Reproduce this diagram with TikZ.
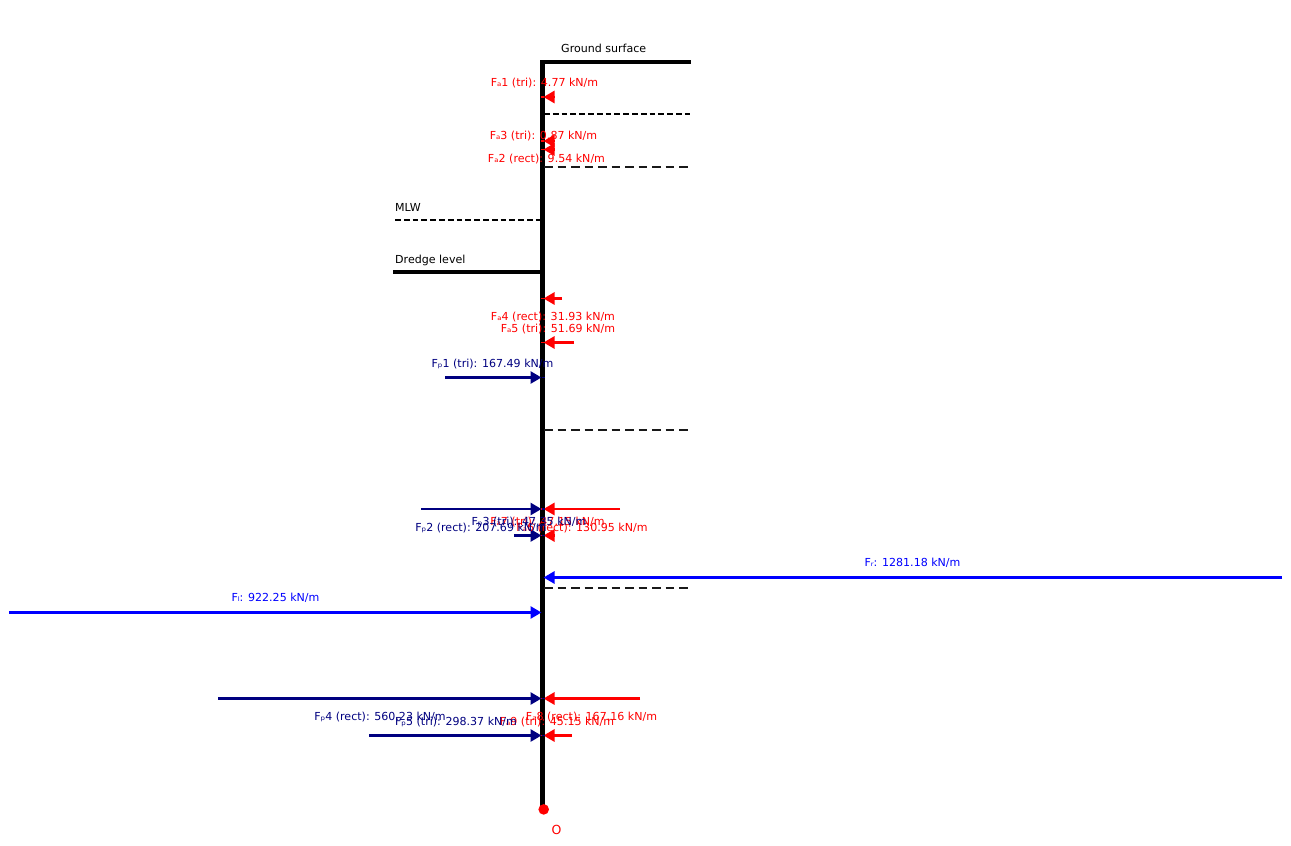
\documentclass[tikz,border=0pt]{standalone}
\usepackage{fontspec}
\setmainfont{DejaVu Sans}
\usetikzlibrary{arrows.meta}
\definecolor{navy}{RGB}{0,0,128}
\tikzset{x=1pt,y=-1pt,
 lbl/.style={inner sep=0pt,font=\fontsize{11.05}{11}\selectfont,anchor=center},
 wall/.style={line width=4.6pt,black},
 ground/.style={line width=3.6pt,black},
 wline/.style={line width=1.8pt,black,dash pattern=on 5.8pt off 3pt},
 wlinet/.style={line width=1.8pt,black!90,dash pattern=on 8.5pt off 5pt},
 fa/.style={line width=2.7pt,red,-{Triangle[length=11pt,width=12pt]}},
 fp/.style={line width=2.7pt,navy,-{Triangle[length=11pt,width=12pt]}},
 fn/.style={line width=2.7pt,blue,-{Triangle[length=11pt,width=12pt]}},
 stub/.style={line width=1.6pt},
}
\begin{document}
\begin{tikzpicture}
\useasboundingbox (0,0) rectangle (1291,846);
\fill[white] (0,0) rectangle (1291,846);
\coordinate (top) at (542.6,60);
\coordinate (toe) at (542.6,809);
\draw[wall] (top) -- (toe);
\coordinate (gl) at (542.6,62);
\coordinate (gr) at (691,62);
\draw[ground] (gl) -- (gr);
\coordinate (w1a) at (544,114); \coordinate (w1b) at (690,114);
\draw[wline] (w1a) -- (w1b);
\coordinate (w2a) at (544,167); \coordinate (w2b) at (688,167);
\draw[wlinet] (w2a) -- (w2b);
\coordinate (w3a) at (395,220); \coordinate (w3b) at (541,220);
\draw[wline] (w3a) -- (w3b);
\coordinate (dl) at (393,272);
\draw[ground] (dl) -- (top |- dl);
\coordinate (w4a) at (544,430); \coordinate (w4b) at (688,430);
\draw[wlinet] (w4a) -- (w4b);
\coordinate (w5a) at (544,588); \coordinate (w5b) at (688,588);
\draw[wlinet] (w5a) -- (w5b);
\node[lbl,anchor=west] (gs) at (561,48.3) {Ground surface};
\node[lbl,anchor=west] (mlw) at (395,207) {MLW};
\node[lbl,anchor=west] (dr) at (395,260) {Dredge level};
% active
\foreach \n/\xs/\y in {a1/554.5/97,a3/554.5/141,a2/554.5/149.5,a4/562/298.5,a5/574/342.5,a6/620/509,a7/554.5/535.5,a8/640/698.5,a9/572/735.5}{
 \coordinate (\n s) at (\xs,\y); \coordinate (\n e) at (543.5,\y);
 \coordinate (\n t) at (540.5,\y);
 \draw[stub,red] (\n t) -- (\n e);
 \draw[fa] (\n s) -- (\n e);
}
% passive
\foreach \n/\xs/\y in {p1/445/377.5,p2/421/509,p3/514/535.5,p4/218/698.5,p5/369/735.5}{
 \coordinate (\n s) at (\xs,\y); \coordinate (\n e) at (541.5,\y);
 \coordinate (\n t) at (544.7,\y);
 \draw[stub,navy] (\n e) -- (\n t);
 \draw[fp] (\n s) -- (\n e);
}
\coordinate (rs) at (1282,577.5); \coordinate (re) at (543.5,577.5);
\draw[fn] (rs) -- (re);
\coordinate (ls) at (9,612.5); \coordinate (le) at (541.5,612.5);
\draw[fn] (ls) -- (le);
\node[lbl,red] (ta1) at (544.5,83) {Fₐ1 (tri): 4.77 kN/m};
\node[lbl,red] (ta3) at (543.5,136) {Fₐ3 (tri): 0.87 kN/m};
\node[lbl,red] (ta2) at (546.5,159) {Fₐ2 (rect): 9.54 kN/m};
\node[lbl,red] (ta4) at (553,317) {Fₐ4 (rect): 31.93 kN/m};
\node[lbl,red] (ta5) at (558,329) {Fₐ5 (tri): 51.69 kN/m};
\node[lbl,red] (ta7) at (547.5,522) {Fₐ7 (tri): 47.15 kN/m};
\node[lbl,red] (ta6) at (582,528) {Fₐ6 (rect): 130.95 kN/m};
\node[lbl,red] (ta8) at (591.5,717) {Fₐ8 (rect): 167.16 kN/m};
\node[lbl,red] (ta9) at (557,722) {Fₐ9 (tri): 45.15 kN/m};
\node[lbl,navy] (tp1) at (492.5,364) {Fₚ1 (tri): 167.49 kN/m};
\node[lbl,navy] (tp3) at (529,522) {Fₚ3 (tri): 47.35 kN/m};
\node[lbl,navy] (tp2) at (481,528) {Fₚ2 (rect): 207.69 kN/m};
\node[lbl,navy] (tp4) at (380,717) {Fₚ4 (rect): 560.23 kN/m};
\node[lbl,navy] (tp5) at (456,722) {Fₚ5 (tri): 298.37 kN/m};
\node[lbl,blue] (tr) at (912.5,562.5) {Fᵣ: 1281.18 kN/m};
\node[lbl,blue] (tl) at (275.5,597.5) {Fₗ: 922.25 kN/m};
\node[circle,fill=red,inner sep=0pt,minimum size=10.6pt] (o) at (543.7,809.4) {};
\node[lbl,red,font=\fontsize{12.5}{12.5}\selectfont] (ot) at (556.5,830) {O};
\end{tikzpicture}
\end{document}
